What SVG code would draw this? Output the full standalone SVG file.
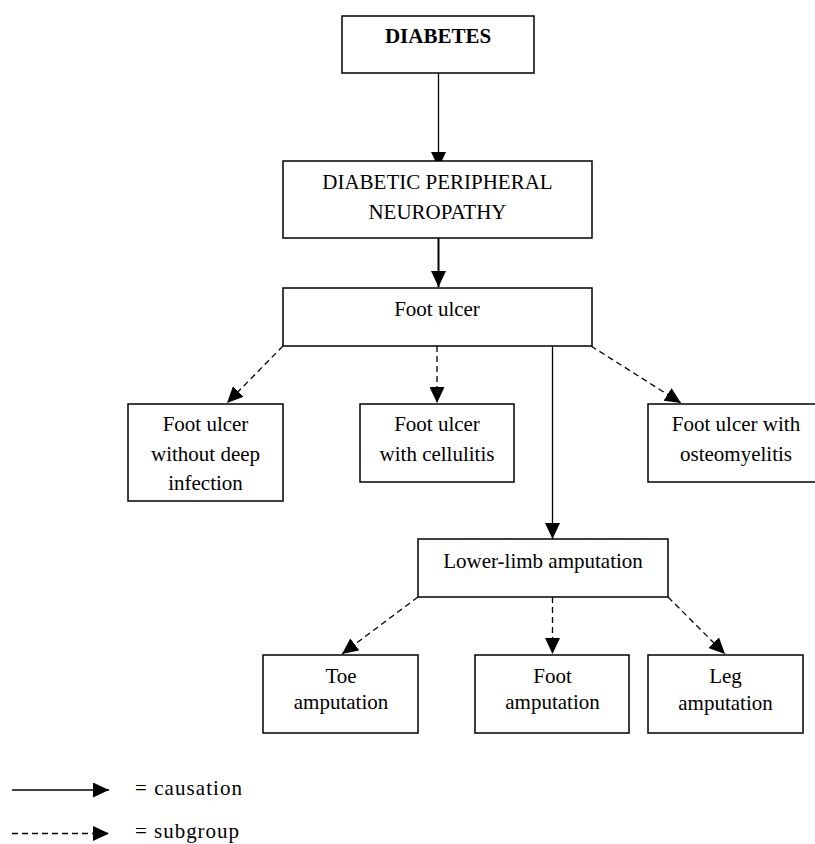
<svg xmlns="http://www.w3.org/2000/svg" width="815" height="844" viewBox="0 0 815 844">
<style>
.box{fill:#fff;stroke:#000;stroke-width:1.5}
.t{font-family:"Liberation Serif","Times New Roman",serif;font-size:21px;fill:#000;text-anchor:middle}
.b{font-weight:bold}
.lg{font-family:"Liberation Serif","Times New Roman",serif;font-size:21px;fill:#000}
.solid{stroke:#000;stroke-width:1.3;fill:none;marker-end:url(#ah)}
.thick{stroke-width:2}
.dash{stroke:#000;stroke-width:1.3;fill:none;stroke-dasharray:6 4;marker-end:url(#ah)}
</style>
<defs>
<marker id="ah" markerUnits="userSpaceOnUse" markerWidth="16" markerHeight="15" refX="16" refY="7.5" orient="auto">
<path d="M0,0 L16,7.5 L0,15 Z" fill="#000"/>
</marker>
</defs>
<rect width="815" height="844" fill="#fff"/>
<g id="connectors">
<line class="solid" x1="438.5" y1="73" x2="438.5" y2="168"/>
<line class="solid thick" x1="438.5" y1="229" x2="438.5" y2="287"/>
<line class="dash" x1="283" y1="346" x2="227" y2="403"/>
<line class="dash" x1="437" y1="346" x2="437" y2="403"/>
<line class="dash" x1="591" y1="346" x2="681" y2="403"/>
<line class="solid" x1="552.5" y1="346" x2="552.5" y2="539"/>
<line class="dash" x1="418" y1="597" x2="342" y2="654"/>
<line class="dash" x1="552.5" y1="597" x2="552.5" y2="654"/>
<line class="dash" x1="668" y1="597" x2="725" y2="654"/>
</g>
<g id="diabetes">
<rect class="box" x="342" y="16" width="192" height="57"/>
<text class="t b" x="438" y="43">DIABETES</text>
</g>
<g id="dpn">
<rect class="box" x="283" y="161" width="309" height="77"/>
<text class="t" x="437.5" y="189">DIABETIC PERIPHERAL</text>
<text class="t" x="437.5" y="219">NEUROPATHY</text>
</g>
<g id="foot-ulcer">
<rect class="box" x="283" y="288" width="309" height="58"/>
<text class="t" x="437" y="316">Foot ulcer</text>
</g>
<g id="ulcer-no-deep">
<rect class="box" x="128" y="404" width="155" height="97"/>
<text class="t" x="205.5" y="431">Foot ulcer</text>
<text class="t" x="205.5" y="461">without deep</text>
<text class="t" x="205.5" y="490">infection</text>
</g>
<g id="ulcer-cellulitis">
<rect class="box" x="360" y="404" width="154" height="78"/>
<text class="t" x="437" y="431">Foot ulcer</text>
<text class="t" x="437" y="461">with cellulitis</text>
</g>
<g id="ulcer-osteomyelitis">
<rect class="box" x="648" y="404" width="176" height="78"/>
<text class="t" x="736" y="431">Foot ulcer with</text>
<text class="t" x="736" y="461">osteomyelitis</text>
</g>
<g id="lower-limb">
<rect class="box" x="418" y="539" width="250" height="58"/>
<text class="t" x="543" y="568">Lower-limb amputation</text>
</g>
<g id="toe">
<rect class="box" x="263" y="655" width="155" height="78"/>
<text class="t" x="341" y="683">Toe</text>
<text class="t" x="341" y="709">amputation</text>
</g>
<g id="foot-amp">
<rect class="box" x="475" y="655" width="154" height="78"/>
<text class="t" x="552.5" y="683">Foot</text>
<text class="t" x="552.5" y="709">amputation</text>
</g>
<g id="leg">
<rect class="box" x="648" y="655" width="155" height="78"/>
<text class="t" x="725.5" y="683">Leg</text>
<text class="t" x="725.5" y="710">amputation</text>
</g>
<g id="legend">
<line class="solid" x1="12" y1="790" x2="109" y2="790"/>
<line class="dash" x1="12" y1="833.5" x2="109" y2="833.5"/>
<text class="lg" x="135" y="795" textLength="107" lengthAdjust="spacing">= causation</text>
<text class="lg" x="135" y="838" textLength="104" lengthAdjust="spacing">= subgroup</text>
</g>
</svg>
